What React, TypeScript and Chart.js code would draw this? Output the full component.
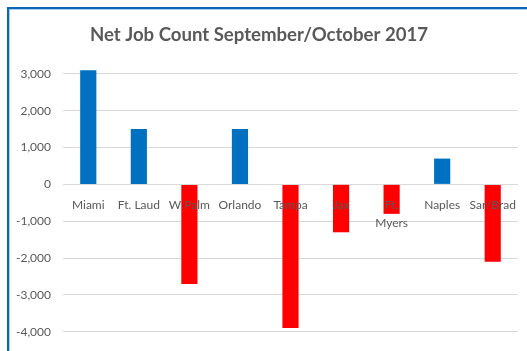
import React, { useEffect, useRef } from "react";
import { Chart, registerables } from "chart.js";

Chart.register(...registerables);

const categories: (string | string[])[] = ["Miami", "Ft. Laud", "W Palm", "Orlando", "Tampa", "Jax", ["Ft.", "Myers"], "Naples", "Sar/Brad"];
const netJobs: number[] = [3100, 1500, -2700, 1500, -3900, -1300, -800, 700, -2100];
const yTicks: number[] = [3000, 2000, 1000, 0, -1000, -2000, -3000, -4000];

const TITLE = "Net Job Count September/October 2017";
const BLUE = "#0070C0";
const RED = "#FF0000";
const TEXT = "#595959";

export default function App() {
  const ref = useRef<HTMLCanvasElement>(null);
  useEffect(() => {
    if (!ref.current) return;
    const chart = new Chart(ref.current, {
      type: "bar",
      data: {
        labels: categories,
        datasets: [
          {
            data: netJobs,
            backgroundColor: netJobs.map((v) => (v < 0 ? RED : BLUE)),
            barPercentage: 0.32,
            categoryPercentage: 1,
            clip: false as any,
          },
        ],
      },
      options: {
        animation: false,
        responsive: true,
        maintainAspectRatio: false,
        layout: { padding: { left: 0, right: 9, top: 0, bottom: 15 } },
        plugins: {
          legend: { display: false },
          tooltip: { enabled: false },
          title: {
            display: true,
            text: TITLE,
            color: TEXT,
            font: { family: "Lato", size: 18.6, weight: "bold", lineHeight: 1.2 },
            padding: { top: 24, bottom: 27.5 },
          },
        },
        scales: {
          x: {
            position: { y: 0 } as any,
            grid: { display: false },
            border: { display: false },
            ticks: {
              z: 1,
              color: TEXT,
              font: { family: "Lato", size: 12, lineHeight: 1.5 },
              padding: 4,
              maxRotation: 0,
              autoSkip: false,
            } as any,
            afterFit: (scale: any) => {
              scale.height = 0;
            },
          },
          y: {
            min: Math.min(...yTicks),
            max: Math.max(...yTicks),
            afterBuildTicks: (scale: any) => {
              scale.ticks = yTicks.slice().reverse().map((v) => ({ value: v }));
            },
            grid: { color: "#D9D9D9", lineWidth: 1, drawTicks: false },
            border: { display: false },
            ticks: {
              color: TEXT,
              font: { family: "Lato", size: 12 },
              padding: 12,
              callback: (v: any) => Number(v).toLocaleString("en-US"),
            },
            afterFit: (scale: any) => {
              scale.width = 63;
            },
          },
        },
      },
    });
    return () => chart.destroy();
  }, []);

  return (
    <div style={{ position: "fixed", left: 0, top: 0, width: 527, height: 351, background: "#fff", overflow: "hidden" }}>
      <div
        style={{
          position: "absolute",
          left: 7,
          top: 7,
          width: 700,
          height: 500,
          borderLeft: "2px solid #0B66B8",
          borderTop: "2px solid #0B66B8",
          boxShadow: "inset 1px 1px 0 #A9D0EE",
        }}
      />
      <div style={{ position: "absolute", left: 0, top: 0, width: 527, height: 351 }}>
        <canvas ref={ref} />
      </div>
    </div>
  );
}
